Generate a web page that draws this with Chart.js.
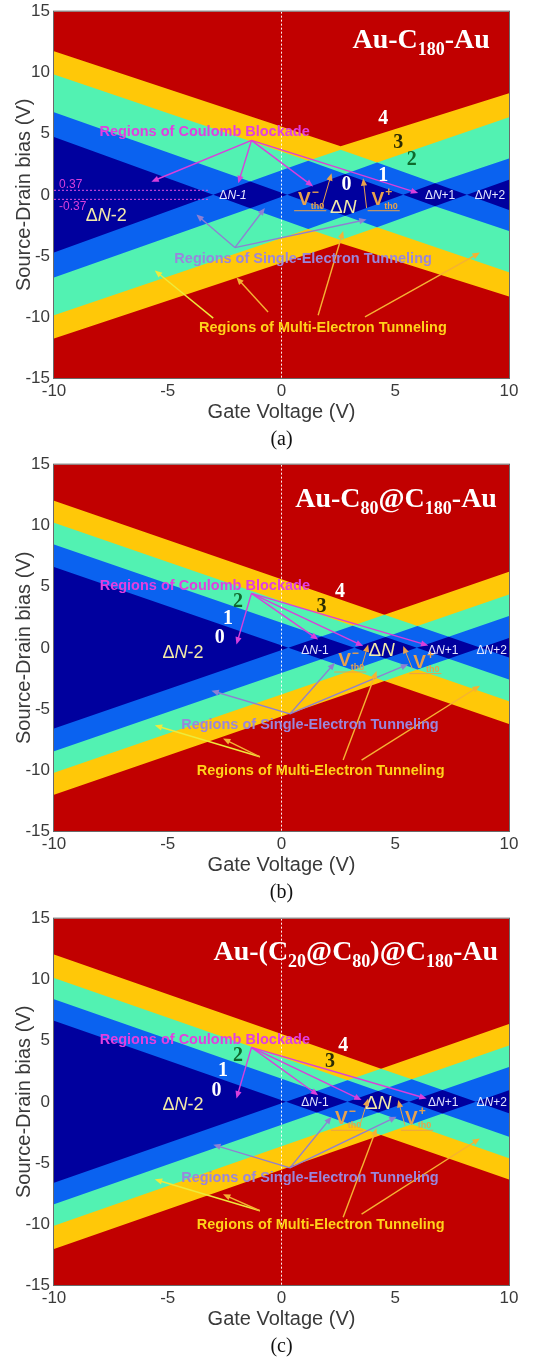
<!DOCTYPE html>
<html>
<head>
<meta charset="utf-8">
<script src="https://cdn.jsdelivr.net/npm/chart.js@4.4.1/dist/chart.umd.min.js"></script>
<style>
  body { margin: 0; background: #fff; }
  canvas { display: block; }
</style>
</head>
<body>
<canvas id="chartA" width="545" height="453"></canvas>
<canvas id="chartB" width="545" height="454"></canvas>
<canvas id="chartC" width="545" height="456"></canvas>
<script>
// axis ticks
const gateTicks = [-10, -5, 0, 5, 10];
const biasTicks = [-15, -10, -5, 0, 5, 10, 15];

// upper edge of each occupation band, bias (V) vs gate (V).
// edge0 = top of the blockade (0) region, edge1 = top of band 1, ... edge3 = top of band 3.
// the maps are mirror symmetric in bias, the lower edges are the same values with opposite sign.
const gateA0 = [-10, -3.0, -1.375, 0.25, 2.8, 5.35, 6.75, 8.15, 10];
const biasA0 = [4.73, 0, 1.09, 0, 1.71, 0, 0.94, 0, 1.24];
const gateA1 = [-10, -1.375, 1.175, 2.8, 4.2, 6.75, 10];
const biasA1 = [6.76, 1.09, 2.8, 1.71, 2.65, 0.94, 2.97];
const gateA2 = [-10, 1.175, 2.6, 4.2, 10];
const biasA2 = [9.86, 2.8, 3.7, 2.65, 6.35];
const gateA3 = [-10, 2.6, 10];
const biasA3 = [11.76, 3.97, 8.32];

const gateB0 = [-10, 0.3, 1.75, 3.2, 4.575, 5.95, 7.35, 8.75, 10];
const biasB0 = [6.61, 0, 0.93, 0, 0.88, 0, 0.9, 0, 0.8];
const gateB1 = [-10, 1.75, 3.125, 4.575, 5.975, 7.35, 10];
const biasB1 = [8.47, 0.93, 1.81, 0.88, 1.78, 0.9, 2.6];
const gateB2 = [-10, 3.125, 4.525, 5.975, 10];
const biasB2 = [10.24, 1.81, 2.71, 1.78, 4.37];
const gateB3 = [-10, 4.525, 10];
const biasB3 = [12.04, 2.71, 6.23];

const gateC0 = [-10, 0.2, 1.55, 2.9, 4.25, 5.6, 7.075, 8.55, 10];
const biasC0 = [6.63, 0, 0.88, 0, 0.88, 0, 0.96, 0, 0.94];
const gateC1 = [-10, 1.55, 2.9, 4.25, 5.725, 7.075, 10];
const biasC1 = [8.39, 0.88, 1.76, 0.88, 1.84, 0.96, 2.86];
const gateC2 = [-10, 2.9, 4.375, 5.725, 10];
const biasC2 = [10.14, 1.76, 2.71, 1.84, 4.62];
const gateC3 = [-10, 4.375, 10];
const biasC3 = [12.06, 2.71, 6.37];

// threshold marker of panel (a)
const thresholdA = 0.37;

const NAVY = '#00009e', BLUE = '#0a62f0', GREEN = '#52f2b2', YELLOW = '#ffc808', RED = '#c10000';
const MAG = '#d93fdc', PUR = '#8f80d2', YEL = '#eeea3c', ORA = '#f5b233', VTH = '#e8a24c';
const SANS = '"Liberation Sans", Arial, sans-serif';
const SERIF = '"Liberation Serif", "Times New Roman", serif';

function band(gates, biases, color) {
  return [
    { data: gates.map((g, i) => ({ x: g, y: biases[i] })), fill: '+1', backgroundColor: color,
      borderWidth: 0, pointRadius: 0, tension: 0 },
    { data: gates.map((g, i) => ({ x: g, y: -biases[i] })), fill: false,
      borderWidth: 0, pointRadius: 0, tension: 0 }
  ];
}

function guide(points, color) {
  return { data: points, fill: false, borderColor: color, borderWidth: 1, borderDash: [2, 2],
    pointRadius: 0, tension: 0 };
}

function drawArrow(ctx, x1, y1, x2, y2, color, w) {
  const ang = Math.atan2(y2 - y1, x2 - x1), h = 8;
  ctx.save();
  ctx.strokeStyle = color; ctx.fillStyle = color; ctx.lineWidth = w || 1.4;
  ctx.beginPath(); ctx.moveTo(x1, y1);
  ctx.lineTo(x2 - h * 0.7 * Math.cos(ang), y2 - h * 0.7 * Math.sin(ang)); ctx.stroke();
  ctx.beginPath(); ctx.moveTo(x2, y2);
  ctx.lineTo(x2 - h * Math.cos(ang - 0.4), y2 - h * Math.sin(ang - 0.4));
  ctx.lineTo(x2 - h * Math.cos(ang + 0.4), y2 - h * Math.sin(ang + 0.4));
  ctx.closePath(); ctx.fill();
  ctx.restore();
}

// runs: [text, font, color, dy]; y is the text middle, size the main font size
function drawRuns(ctx, x, y, runs, align, size) {
  ctx.save();
  ctx.textBaseline = 'alphabetic';
  let w = 0;
  runs.forEach(r => { ctx.font = r[1]; w += ctx.measureText(r[0]).width; });
  let cx = align === 'right' ? x - w : align === 'left' ? x : x - w / 2;
  const base = y + size * 0.36;
  runs.forEach(r => {
    ctx.font = r[1]; ctx.fillStyle = r[2];
    ctx.fillText(r[0], cx, base + (r[3] || 0));
    cx += ctx.measureText(r[0]).width;
  });
  ctx.restore();
}

function dn(suffix, size, color, italic) {
  const f = size + 'px ' + SANS;
  return [[italic ? '\u0394' : '\u0394', f, color], ['N', 'italic ' + f, color], [suffix, (italic ? 'italic ' : '') + f, color]];
}

function titleRuns(parts) {
  return parts.map(p => p[1] ? [p[0], 'bold 18px ' + SERIF, '#fff', 7] : [p[0], 'bold 28px ' + SERIF, '#fff', 0]);
}

function makeNotes(n) {
  return {
    id: 'notes',
    afterDatasetsDraw(chart) {
      const { ctx, chartArea: ca } = chart;
      const sx = chart.scales.x, sy = chart.scales.y;
      const px = v => sx.getPixelForValue(v), py = v => sy.getPixelForValue(v);
      ctx.save();
      ctx.beginPath(); ctx.rect(ca.left, ca.top, ca.width, ca.height); ctx.clip();
      // title: baseline given
      drawRuns(ctx, px(n.title.x), py(n.title.y) - 10, titleRuns(n.title.parts), 'right', 28);
      n.arrows.forEach(a => drawArrow(ctx, px(a[0]), py(a[1]), px(a[2]), py(a[3]), a[4]));
      n.regions.forEach(r => drawRuns(ctx, px(r[1]), py(r[2]), [[r[0], 'bold 14.5px ' + SANS, r[3]]], 'center', 14.5));
      n.numbers.forEach(r => drawRuns(ctx, px(r[1]), py(r[2]), [[r[0], 'bold 20px ' + SERIF, r[3]]], 'center', 20));
      n.states.forEach(s => drawRuns(ctx, px(s[1]), py(s[2]), dn(s[0], s[3], s[4], s[5]), 'center', s[3]));
      n.vth.forEach(v => {
        const x0 = px(v.x), yb = py(v.y);
        ctx.save();
        ctx.fillStyle = VTH; ctx.textBaseline = 'alphabetic';
        ctx.font = 'bold 19px ' + SANS;
        ctx.fillText('V', x0, yb);
        const vw = ctx.measureText('V').width;
        ctx.font = 'bold 12px ' + SANS;
        ctx.fillText(v.sign, x0 + vw + 1, yb - 9);
        ctx.font = 'bold 9px ' + SANS;
        ctx.fillText('th0', x0 + vw, yb + 4);
        const end = x0 + vw + ctx.measureText('th0').width + 2;
        ctx.strokeStyle = VTH; ctx.lineWidth = 1;
        ctx.beginPath(); ctx.moveTo(x0 - 4, yb + 6); ctx.lineTo(end, yb + 6); ctx.stroke();
        ctx.restore();
        drawArrow(ctx, px(v.from[0]), py(v.from[1]), px(v.to[0]), py(v.to[1]), VTH, 1);
      });
      (n.marks || []).forEach(m => drawRuns(ctx, px(m[1]), py(m[2]), [[m[0], '12px ' + SANS, MAG]], 'left', 12));
      ctx.restore();
    }
  };
}

const backdrop = {
  id: 'backdrop',
  beforeDraw(chart) {
    const { ctx, chartArea: ca } = chart;
    ctx.save();
    ctx.fillStyle = RED;
    ctx.fillRect(ca.left, ca.top, ca.width, ca.height);
    ctx.restore();
  },
  afterDraw(chart) {
    const { ctx, chartArea: ca } = chart;
    ctx.save();
    ctx.strokeStyle = '#6a6a6a'; ctx.lineWidth = 1;
    ctx.strokeRect(ca.left - 0.5, ca.top - 0.5, ca.width + 1, ca.height + 1);
    ctx.font = '20px ' + SERIF; ctx.fillStyle = '#111';
    ctx.textAlign = 'center'; ctx.textBaseline = 'middle';
    ctx.fillText(chart.options.caption, (ca.left + ca.right) / 2, 440);
    ctx.restore();
  }
};

function makeChart(id, edges, extra, notes, caption, padBottom) {
  const datasets = [guide([{ x: 0, y: 15 }, { x: 0, y: -15 }], 'rgba(255,255,255,0.95)')]
    .concat(extra)
    .concat(band(edges[0][0], edges[0][1], NAVY))
    .concat(band(edges[1][0], edges[1][1], BLUE))
    .concat(band(edges[2][0], edges[2][1], GREEN))
    .concat(band(edges[3][0], edges[3][1], YELLOW));
  return new Chart(document.getElementById(id), {
    type: 'line',
    data: { datasets },
    options: {
      caption,
      responsive: false,
      animation: false,
      events: [],
      layout: { padding: { left: 0, right: 36, top: 8, bottom: padBottom } },
      plugins: { legend: { display: false }, tooltip: { enabled: false } },
      scales: {
        x: {
          type: 'linear', min: -10, max: 10,
          afterBuildTicks: s => { s.ticks = gateTicks.map(v => ({ value: v })); },
          afterFit: s => { s.height = 48; },
          grid: { display: false, drawTicks: false },
          border: { display: false },
          ticks: { color: '#3a3a3a', padding: 3, font: { size: 17, family: SANS, lineHeight: 1.2 } },
          title: { display: true, text: 'Gate Voltage (V)', color: '#3a3a3a', padding: { top: 0, bottom: 2 },
            font: { size: 20, family: SANS } }
        },
        y: {
          type: 'linear', min: -15, max: 15,
          afterBuildTicks: s => { s.ticks = biasTicks.map(v => ({ value: v })); },
          afterFit: s => { s.width = 54; },
          grid: { display: false, drawTicks: false },
          border: { display: false },
          ticks: { color: '#3a3a3a', padding: 4, font: { size: 17, family: SANS, lineHeight: 0.9 } },
          title: { display: true, text: 'Source-Drain bias (V)', color: '#3a3a3a', padding: { top: 12, bottom: 0 },
            font: { size: 20, family: SANS } }
        }
      }
    },
    plugins: [backdrop, makeNotes(notes)]
  });
}

const notesA = {
  title: { x: 9.16, y: 12.0, parts: [['Au-C'], ['180', 1], ['-Au']] },
  regions: [
    ['Regions of Coulomb Blockade', -3.38, 5.27, '#e23fe0'],
    ['Regions of Single-Electron Tunneling', 0.95, -5.14, '#9a86dc'],
    ['Regions of Multi-Electron Tunneling', 1.82, -10.8, '#ffd21a']
  ],
  arrows: [
    [-1.32, 4.46, -5.72, 1.08, MAG], [-1.32, 4.46, -1.9, 0.95, MAG],
    [-1.32, 4.46, 1.39, 0.68, MAG], [-1.32, 4.46, 6.01, 0.14, MAG],
    [-2.05, -4.32, -3.74, -1.62, PUR], [-2.05, -4.32, -0.73, -1.08, PUR], [-2.05, -4.32, 3.74, -2.03, PUR],
    [-3.0, -10.1, -5.57, -6.2, YEL], [-0.59, -9.6, -1.98, -6.76, ORA],
    [1.61, -9.86, 2.71, -2.97, ORA], [3.67, -10.0, 8.72, -4.73, ORA]
  ],
  numbers: [['4', 4.47, 6.35, '#fff'], ['3', 5.13, 4.46, '#2b2b05'], ['2', 5.72, 3.03, '#0f6a2c'],
    ['1', 4.47, 1.76, '#fff'], ['0', 2.86, 0.95, '#fff']],
  states: [['-2', -7.7, -1.62, 18, '#f3eaa8', false], ['-1', -2.13, 0, 12, '#e4e6ff', true],
    ['', 2.71, -0.95, 19, '#f3eaa8', false], ['+1', 6.97, 0.05, 12, '#e4e6ff', false],
    ['+2', 9.16, 0, 12, '#e4e6ff', false]],
  vth: [{ x: 0.73, y: -0.81, sign: '\u2212', from: [1.76, -1.08], to: [2.2, 1.76] },
    { x: 3.96, y: -0.81, sign: '+', from: [3.74, -1.08], to: [3.59, 1.35] }],
  marks: [['0.37', -9.78, 0.9], ['-0.37', -9.78, -0.9]]
};

const notesB = {
  title: { x: 9.47, y: 11.55, parts: [['Au-C'], ['80', 1], ['@C'], ['180', 1], ['-Au']] },
  regions: [
    ['Regions of Coulomb Blockade', -3.37, 5.14, '#e23fe0'],
    ['Regions of Single-Electron Tunneling', 1.25, -6.22, '#9a86dc'],
    ['Regions of Multi-Electron Tunneling', 1.72, -10.0, '#ffd21a']
  ],
  arrows: [
    [-1.32, 4.46, -1.98, 0.27, MAG], [-1.32, 4.46, 1.61, 0.68, MAG],
    [-1.32, 4.46, 3.59, 0.14, MAG], [-1.32, 4.46, 6.45, 0.19, MAG],
    [0.37, -5.41, -3.08, -3.51, PUR], [0.37, -5.41, 2.35, -1.22, PUR], [0.37, -5.41, 5.57, -1.35, PUR],
    [-0.95, -8.92, -5.57, -6.35, YEL], [-0.95, -8.92, -2.57, -7.43, ORA],
    [2.71, -9.19, 4.18, -1.89, ORA], [3.52, -9.19, 8.72, -3.11, ORA]
  ],
  numbers: [['4', 2.57, 4.73, '#fff'], ['3', 1.76, 3.51, '#2b2b05'], ['2', -1.91, 3.92, '#0f6a2c'],
    ['1', -2.35, 2.51, '#fff'], ['0', -2.71, 0.95, '#fff']],
  states: [['-2', -4.33, -0.27, 18, '#f3eaa8', false], ['-1', 1.47, -0.14, 12, '#e4e6ff', false],
    ['', 4.4, -0.14, 19, '#f3eaa8', false], ['+1', 7.11, -0.14, 12, '#e4e6ff', false],
    ['+2', 9.24, -0.14, 12, '#e4e6ff', false]],
  vth: [{ x: 2.49, y: -1.49, sign: '\u2212', from: [3.52, -1.55], to: [3.81, 0.27] },
    { x: 5.79, y: -1.62, sign: '+', from: [5.75, -1.7], to: [5.35, 0.14] }]
};

const notesC = {
  title: { x: 9.52, y: 11.6, parts: [['Au-(C'], ['20', 1], ['@C'], ['80', 1], [')@C'], ['180', 1], ['-Au']] },
  regions: [
    ['Regions of Coulomb Blockade', -3.37, 5.19, '#e23fe0'],
    ['Regions of Single-Electron Tunneling', 1.25, -6.16, '#9a86dc'],
    ['Regions of Multi-Electron Tunneling', 1.72, -9.95, '#ffd21a']
  ],
  arrows: [
    [-1.32, 4.46, -1.98, 0.27, MAG], [-1.32, 4.46, 1.61, 0.54, MAG],
    [-1.32, 4.46, 3.52, 0.14, MAG], [-1.32, 4.46, 6.38, 0.27, MAG],
    [0.37, -5.41, -3.0, -3.51, PUR], [0.37, -5.41, 2.2, -1.22, PUR], [0.37, -5.41, 5.06, -1.22, PUR],
    [-0.95, -8.92, -5.57, -6.35, YEL], [-0.95, -8.92, -2.57, -7.57, ORA],
    [2.71, -9.46, 4.18, -2.16, ORA], [3.52, -9.19, 8.72, -3.0, ORA]
  ],
  numbers: [['4', 2.71, 4.73, '#fff'], ['3', 2.13, 3.46, '#2b2b05'], ['2', -1.91, 3.92, '#0f6a2c'],
    ['1', -2.57, 2.7, '#fff'], ['0', -2.86, 1.08, '#fff']],
  states: [['-2', -4.33, -0.14, 18, '#f3eaa8', false], ['-1', 1.47, 0, 12, '#e4e6ff', false],
    ['', 4.25, 0, 19, '#f3eaa8', false], ['+1', 7.11, 0, 12, '#e4e6ff', false],
    ['+2', 9.24, 0, 12, '#e4e6ff', false]],
  vth: [{ x: 2.35, y: -1.84, sign: '\u2212', from: [3.45, -1.9], to: [3.81, 0.27] },
    { x: 5.43, y: -1.84, sign: '+', from: [5.43, -1.95], to: [5.13, 0.14] }]
};

const markA = [
  guide([{ x: -10, y: thresholdA }, { x: -3.2, y: thresholdA }], '#e050e0'),
  guide([{ x: -10, y: -thresholdA }, { x: -3.2, y: -thresholdA }], '#e050e0')
];

makeChart('chartA', [[gateA0, biasA0], [gateA1, biasA1], [gateA2, biasA2], [gateA3, biasA3]], markA, notesA, '(a)', 27);
makeChart('chartB', [[gateB0, biasB0], [gateB1, biasB1], [gateB2, biasB2], [gateB3, biasB3]], [], notesB, '(b)', 28);
makeChart('chartC', [[gateC0, biasC0], [gateC1, biasC1], [gateC2, biasC2], [gateC3, biasC3]], [], notesC, '(c)', 30);
</script>
</body>
</html>
